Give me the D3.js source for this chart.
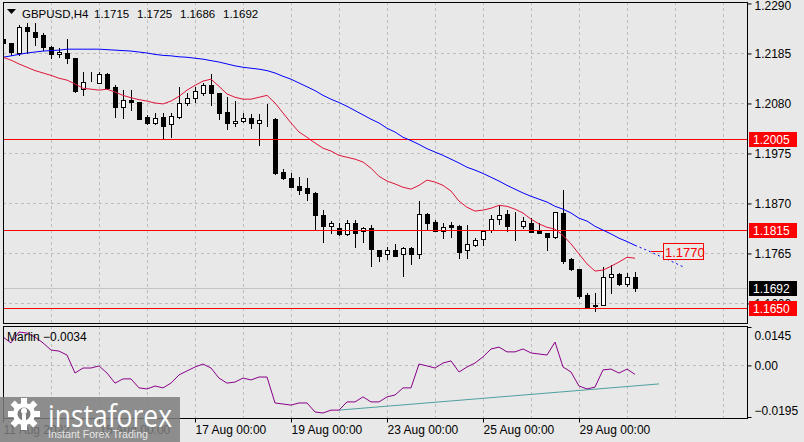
<!DOCTYPE html>
<html><head><meta charset="utf-8">
<script src="https://cdn.jsdelivr.net/npm/d3@7"></script>
<style>html,body{margin:0;padding:0;background:#E8E8E8;overflow:hidden}svg{display:block;font-family:"Liberation Sans",Arial,sans-serif}</style>
</head><body><svg id="c" width="804" height="442"></svg>
<script>
const symbol = "GBPUSD,H4";
const lastOHLC = ["1.1715","1.1725","1.1686","1.1692"];
const opens = [1.2215,1.2207,1.2186,1.2240,1.2230,1.2223,1.2198,1.2184,1.2186,1.2175,
1.2110,1.2129,1.2123,1.2142,1.2114,1.2072,1.2087,1.2083,1.2051,1.2038,
1.2051,1.2036,1.2051,1.2080,1.2091,1.2102,1.2118,1.2102,1.2062,1.2039,
1.2043,1.2049,1.2039,1.2047,1.2047,1.1936,1.1923,1.1906,1.1902,1.1892,
1.1846,1.1823,1.1818,1.1806,1.1829,1.1812,1.1818,1.1772,1.1764,1.1772,
1.1764,1.1776,1.1764,1.1848,1.1831,1.1812,1.1825,1.1823,1.1772,1.1783,
1.1795,1.1814,1.1837,1.1848,1.1823,1.1823,1.1829,1.1812,1.1808,1.1799,
1.1850,1.1753,1.1732,1.1677,1.1654,1.1656,1.1715,1.1722,1.1701,1.1715];
const highs = [1.2219,1.2207,1.2244,1.2249,1.2249,1.2228,1.2200,1.2196,1.2215,1.2175,
1.2146,1.2146,1.2146,1.2144,1.2118,1.2108,1.2108,1.2083,1.2055,1.2059,
1.2059,1.2061,1.2114,1.2101,1.2114,1.2123,1.2142,1.2102,1.2093,1.2085,
1.2060,1.2058,1.2058,1.2079,1.2049,1.1942,1.1933,1.1925,1.1923,1.1894,
1.1856,1.1833,1.1829,1.1835,1.1835,1.1821,1.1825,1.1772,1.1779,1.1785,
1.1779,1.1779,1.1875,1.1850,1.1835,1.1829,1.1831,1.1825,1.1825,1.1798,
1.1814,1.1846,1.1867,1.1856,1.1852,1.1841,1.1839,1.1829,1.1808,1.1852,
1.1898,1.1755,1.1732,1.1682,1.1682,1.1736,1.1741,1.1724,1.1724,1.1725];
const lows = [1.2202,1.2181,1.2181,1.2186,1.2202,1.2192,1.2175,1.2177,1.2165,1.2104,
1.2097,1.2127,1.2123,1.2110,1.2051,1.2049,1.2066,1.2047,1.2036,1.2037,
1.2005,1.2009,1.2049,1.2076,1.2083,1.2097,1.2076,1.2047,1.2026,1.2032,
1.2041,1.2028,1.1992,1.2032,1.1932,1.1921,1.1904,1.1890,1.1877,1.1814,
1.1789,1.1808,1.1804,1.1804,1.1779,1.1789,1.1738,1.1749,1.1753,1.1759,
1.1717,1.1743,1.1755,1.1816,1.1812,1.1798,1.1800,1.1755,1.1755,1.1781,
1.1783,1.1810,1.1827,1.1812,1.1793,1.1818,1.1810,1.1808,1.1772,1.1797,
1.1745,1.1730,1.1671,1.1650,1.1644,1.1656,1.1682,1.1699,1.1697,1.1686];
const closes = [1.2207,1.2188,1.2240,1.2232,1.2219,1.2198,1.2184,1.2188,1.2175,1.2106,
1.2125,1.2129,1.2142,1.2112,1.2072,1.2087,1.2083,1.2047,1.2038,1.2049,
1.2032,1.2053,1.2080,1.2091,1.2106,1.2118,1.2102,1.2060,1.2039,1.2043,
1.2049,1.2039,1.2045,1.2047,1.1934,1.1923,1.1904,1.1898,1.1892,1.1846,
1.1823,1.1829,1.1806,1.1829,1.1808,1.1818,1.1774,1.1759,1.1772,1.1759,
1.1776,1.1764,1.1848,1.1829,1.1812,1.1821,1.1821,1.1768,1.1785,1.1793,
1.1812,1.1837,1.1846,1.1823,1.1823,1.1833,1.1810,1.1808,1.1799,1.1852,
1.1749,1.1732,1.1675,1.1650,1.1656,1.1715,1.1722,1.1701,1.1715,1.1692];
const maFast = [1.2177,1.2171,1.2163,1.2156,1.2149,1.2144,1.2139,1.2133,1.2129,1.2121,
1.2112,1.2110,1.2108,1.2110,1.2104,1.2097,1.2092,1.2088,1.2085,1.2081,
1.2079,1.2085,1.2095,1.2108,1.2118,1.2127,1.2131,1.2116,1.2100,1.2093,
1.2089,1.2089,1.2093,1.2097,1.2081,1.2060,1.2039,1.2020,1.2009,1.1997,
1.1986,1.1980,1.1971,1.1967,1.1963,1.1957,1.1944,1.1927,1.1917,1.1911,
1.1904,1.1900,1.1908,1.1919,1.1915,1.1908,1.1896,1.1875,1.1862,1.1854,
1.1856,1.1860,1.1866,1.1864,1.1858,1.1850,1.1837,1.1827,1.1820,1.1816,
1.1803,1.1785,1.1764,1.1743,1.1728,1.1730,1.1738,1.1747,1.1757,1.1755];
const maSlow = [1.2177,1.2180,1.2183,1.2186,1.2188,1.2190,1.2191,1.2192,1.2194,1.2194,
1.2194,1.2194,1.2194,1.2193,1.2192,1.2191,1.2190,1.2188,1.2186,1.2183,
1.2181,1.2180,1.2178,1.2177,1.2175,1.2173,1.2170,1.2167,1.2163,1.2159,
1.2156,1.2154,1.2152,1.2149,1.2144,1.2137,1.2131,1.2123,1.2115,1.2107,
1.2097,1.2089,1.2082,1.2074,1.2065,1.2056,1.2047,1.2039,1.2028,1.2020,
1.2009,1.2002,1.1994,1.1985,1.1978,1.1971,1.1963,1.1955,1.1946,1.1940,
1.1933,1.1925,1.1917,1.1908,1.1900,1.1892,1.1885,1.1879,1.1873,1.1864,
1.1858,1.1850,1.1839,1.1833,1.1822,1.1814,1.1806,1.1797,1.1790,1.1782];
const maSlowProjection = [1.1782,1.1775,1.1768,1.1760,1.1753,1.1745,1.1737]; // bars 79..85
const marlin = [0.0107,0.0085,0.0126,0.0122,0.0107,0.0085,0.0058,0.0054,0.0039,-0.0029,
-0.0010,-0.0010,-0.0002,-0.0029,-0.0067,-0.0051,-0.0051,-0.0085,-0.0089,-0.0078,
-0.0085,-0.0067,-0.0036,-0.0021,-0.0006,0.0005,-0.0010,-0.0048,-0.0067,-0.0063,
-0.0048,-0.0055,-0.0044,-0.0044,-0.0142,-0.0146,-0.0150,-0.0142,-0.0142,-0.0176,
-0.0180,-0.0169,-0.0169,-0.0138,-0.0138,-0.0119,-0.0138,-0.0138,-0.0119,-0.0112,
-0.0085,-0.0085,0.0005,-0.0002,-0.0010,0.0009,0.0017,-0.0025,-0.0006,0.0009,
0.0032,0.0062,0.0069,0.0051,0.0051,0.0062,0.0047,0.0043,0.0039,0.0088,
-0.0006,-0.0025,-0.0078,-0.0089,-0.0082,-0.0017,-0.0014,-0.0029,-0.0014,-0.0034];
const trendBars = [42, 82];
const trendVals = [-0.0169, -0.0070];
const levels = [1.2005, 1.1815, 1.1650];
const currentPrice = 1.1692;
const targetPrice = 1.1770;
const targetBar = 81;
const priceTicks = [1.2290,1.2185,1.2080,1.1975,1.1870,1.1765,1.1660];
const marlinTicks = [0.0145, 0.00, -0.0195];
const marlinName = "Marlin";
const timeLabels = ["11 Aug 2022","15 Aug 00:00","17 Aug 00:00","19 Aug 00:00","23 Aug 00:00","25 Aug 00:00","29 Aug 00:00"];
const timeLabelBars = [0,12,24,36,48,60,72];

const svg = d3.select("#c");
const L = 3, R = 747, mTop = 2, mBot = 323, iTop = 326, iBot = 418;
const N = opens.length;
const x = d3.scaleLinear().domain([0, 93]).range([3, 747]);
const y = d3.scaleLinear().domain([1.1621, 1.2291]).range([322, 3]);
const yi = d3.scaleLinear().domain([-0.0195, 0.0145]).range([417, 327]);
const c = v => Math.round(v) + 0.5;
const GRID = "#BDBDBD";

svg.append("rect").attr("width", 804).attr("height", 442).attr("fill", "#E8E8E8");
const defs = svg.append("defs");
defs.append("clipPath").attr("id", "cm").append("rect").attr("x", L).attr("y", mTop).attr("width", R - L).attr("height", mBot - mTop);
defs.append("clipPath").attr("id", "ci").append("rect").attr("x", L).attr("y", iTop).attr("width", R - L).attr("height", iBot - iTop);

const gm = svg.append("g").attr("clip-path", "url(#cm)");
const gi = svg.append("g").attr("clip-path", "url(#ci)");

// grid
const vgrid = d3.range(6, 93, 6);
gm.selectAll(".vg").data(vgrid).join("line").attr("x1", d => c(x(d))).attr("x2", d => c(x(d)))
  .attr("y1", mTop).attr("y2", mBot).attr("stroke", GRID).attr("stroke-dasharray", "3,3");
gm.selectAll(".hg").data(priceTicks.slice(1)).join("line").attr("x1", L).attr("x2", R)
  .attr("y1", d => c(y(d))).attr("y2", d => c(y(d))).attr("stroke", GRID).attr("stroke-dasharray", "3,3");
gi.selectAll(".vg").data(vgrid).join("line").attr("x1", d => c(x(d))).attr("x2", d => c(x(d)))
  .attr("y1", iTop).attr("y2", iBot).attr("stroke", GRID).attr("stroke-dasharray", "3,3");
gi.append("line").attr("x1", L).attr("x2", R).attr("y1", c(yi(0))).attr("y2", c(yi(0)))
  .attr("stroke", GRID).attr("stroke-dasharray", "3,3");

// current price line
gm.append("line").attr("x1", L).attr("x2", R).attr("y1", c(y(currentPrice))).attr("y2", c(y(currentPrice)))
  .attr("stroke", "#C4C4C4");

// candles
const idx = d3.range(N);
gm.selectAll(".wick").data(idx).join("line")
  .attr("x1", i => Math.round(x(i)) + 0.5).attr("x2", i => Math.round(x(i)) + 0.5)
  .attr("y1", i => Math.round(y(highs[i]))).attr("y2", i => Math.round(y(lows[i])) + 1)
  .attr("stroke", "#000");
gm.selectAll(".body").data(idx).join("rect")
  .attr("x", i => Math.round(x(i)) - 2 + 0.5)
  .attr("y", i => Math.round(y(Math.max(opens[i], closes[i]))) + 0.5)
  .attr("width", 4)
  .attr("height", i => Math.max(0, Math.round(y(Math.min(opens[i], closes[i]))) - Math.round(y(Math.max(opens[i], closes[i])))))
  .attr("fill", i => closes[i] >= opens[i] ? "#fff" : "#000")
  .attr("stroke", "#000");

// levels
gm.selectAll(".lvl").data(levels).join("line").attr("x1", L).attr("x2", R)
  .attr("y1", d => c(y(d))).attr("y2", d => c(y(d))).attr("stroke", "#FF0000");

// moving averages
const line = d3.line().x((d, i) => x(i)).y(d => y(d));
gm.append("path").attr("d", line(maSlow)).attr("fill", "none").attr("stroke", "#0000FF").attr("stroke-width", 1);
gm.append("path").attr("d", d3.line().x((d, i) => x(79 + i)).y(d => y(d))(maSlowProjection))
  .attr("fill", "none").attr("stroke", "#0000FF").attr("stroke-dasharray", "2,3");
gm.append("path").attr("d", line(maFast)).attr("fill", "none").attr("stroke", "#E0143C").attr("stroke-width", 1);

// target label
const ty = c(y(targetPrice));
gm.append("line").attr("x1", x(targetBar)).attr("x2", x(targetBar) + 12).attr("y1", ty).attr("y2", ty).attr("stroke", "#FF0000");
gm.append("rect").attr("x", Math.round(x(targetBar)) + 12.5).attr("y", ty - 8).attr("width", 40).attr("height", 16)
  .attr("fill", "#E8E8E8").attr("stroke", "#FF0000");
gm.append("text").attr("x", Math.round(x(targetBar)) + 14).attr("y", ty + 5).attr("font-size", 13).attr("fill", "#FF0000")
  .text(d3.format(".4f")(targetPrice));

// indicator
gi.append("path").attr("d", d3.line().x((d, i) => x(trendBars[i])).y(d => yi(d))(trendVals))
  .attr("fill", "none").attr("stroke", "#4F9FA0");
gi.append("path").attr("d", d3.line().x((d, i) => x(i)).y(d => yi(d))(marlin))
  .attr("fill", "none").attr("stroke", "#8B008B");

// frames
svg.append("rect").attr("x", L + 0.5).attr("y", mTop + 0.5).attr("width", R - L).attr("height", mBot - mTop)
  .attr("fill", "none").attr("stroke", "#000");
svg.append("rect").attr("x", L + 0.5).attr("y", iTop + 0.5).attr("width", R - L).attr("height", iBot - iTop)
  .attr("fill", "none").attr("stroke", "#000");

// price axis
const pa = svg.append("g").attr("transform", `translate(${R + 0.5},0)`)
  .call(d3.axisRight(y).tickValues(priceTicks).tickFormat(d3.format(".4f")).tickSize(4).tickPadding(3));
pa.select(".domain").remove();
pa.selectAll("text").attr("font-size", 12).attr("font-family", "Liberation Sans, Arial, sans-serif").attr("fill", "#000")
  .attr("dy", (d, i) => i === 0 ? "0.5em" : "0.32em");
pa.selectAll("line").attr("stroke", "#000");

// price tags
function tag(v, bg) {
  const yy = Math.round(y(v));
  svg.append("rect").attr("x", R + 2).attr("y", yy - 7).attr("width", 48).attr("height", 15).attr("fill", bg);
  svg.append("text").attr("x", R + 6).attr("y", yy + 5).attr("font-size", 12).attr("fill", "#fff").text(d3.format(".4f")(v));
}
levels.forEach(v => tag(v, "#FF0000"));
tag(currentPrice, "#000000");

// indicator axis
const ia = svg.append("g").attr("transform", `translate(${R + 0.5},0)`)
  .call(d3.axisRight(yi).tickValues(marlinTicks).tickFormat(d => d === 0 ? "0.00" : d3.format(".4f")(d)).tickSize(4).tickPadding(3));
ia.select(".domain").remove();
ia.selectAll("text").attr("font-size", 12).attr("font-family", "Liberation Sans, Arial, sans-serif").attr("fill", "#000")
  .attr("dy", (d, i) => i === 0 ? "1.0em" : (i === marlinTicks.length - 1 ? "-0.2em" : "0.32em"));
ia.selectAll("line").attr("stroke", "#000");

// time axis
const ta = svg.append("g").attr("transform", `translate(0,${iBot + 0.5})`)
  .call(d3.axisBottom(x).tickValues(timeLabelBars).tickFormat((d, i) => timeLabels[i]).tickSize(4).tickPadding(3));
ta.select(".domain").remove();
ta.selectAll("text").attr("font-size", 12).attr("font-family", "Liberation Sans, Arial, sans-serif").attr("fill", "#000").attr("text-anchor", "start");
ta.selectAll("line").attr("stroke", "#000");

// title
svg.append("path").attr("d", "M7,9 L16,9 L11.5,14 Z").attr("fill", "#000");
const title = svg.append("text").attr("y", 18).attr("font-size", 11.5).attr("fill", "#000");
title.append("tspan").attr("x", 22).text(symbol);
lastOHLC.forEach((v, i) => title.append("tspan").attr("x", 94 + i * 43).text(v));

// indicator name
svg.append("text").attr("x", 7).attr("y", 341).attr("font-size", 12).attr("fill", "#000")
  .text(marlinName + " " + d3.format(".4f")(marlin[N - 1]));

// watermark
const WMC = "#7C7C7C";
const wm = svg.append("g");
wm.append("rect").attr("x", 0).attr("y", 397).attr("width", 180).attr("height", 45).attr("fill", WMC).attr("opacity", 0.85);
const gx = 24, gy = 414;
d3.range(8).forEach(k => {
  wm.append("rect").attr("x", gx - 3).attr("y", gy - 16).attr("width", 6).attr("height", 7).attr("fill", "#fff")
    .attr("transform", `rotate(${k * 45},${gx},${gy})`);
});
wm.append("circle").attr("cx", gx).attr("cy", gy).attr("r", 11).attr("fill", "#fff");
wm.append("circle").attr("cx", gx).attr("cy", gy).attr("r", 6.5).attr("fill", WMC);
wm.append("circle").attr("cx", gx).attr("cy", gy - 3).attr("r", 3).attr("fill", "#fff");
wm.append("rect").attr("x", gx - 2).attr("y", gy).attr("width", 4).attr("height", 13).attr("fill", "#fff");
wm.append("text").attr("x", 48).attr("y", 427).attr("font-size", 31).attr("font-family", "Open Sans, Liberation Sans, sans-serif")
  .attr("fill", "#fff").attr("textLength", 124).attr("lengthAdjust", "spacingAndGlyphs").text("instaforex");
wm.append("text").attr("x", 48).attr("y", 438).attr("font-size", 11).attr("fill", "#E6E6E6")
  .attr("textLength", 100).attr("lengthAdjust", "spacingAndGlyphs").text("Instant Forex Trading");
</script></body></html>
